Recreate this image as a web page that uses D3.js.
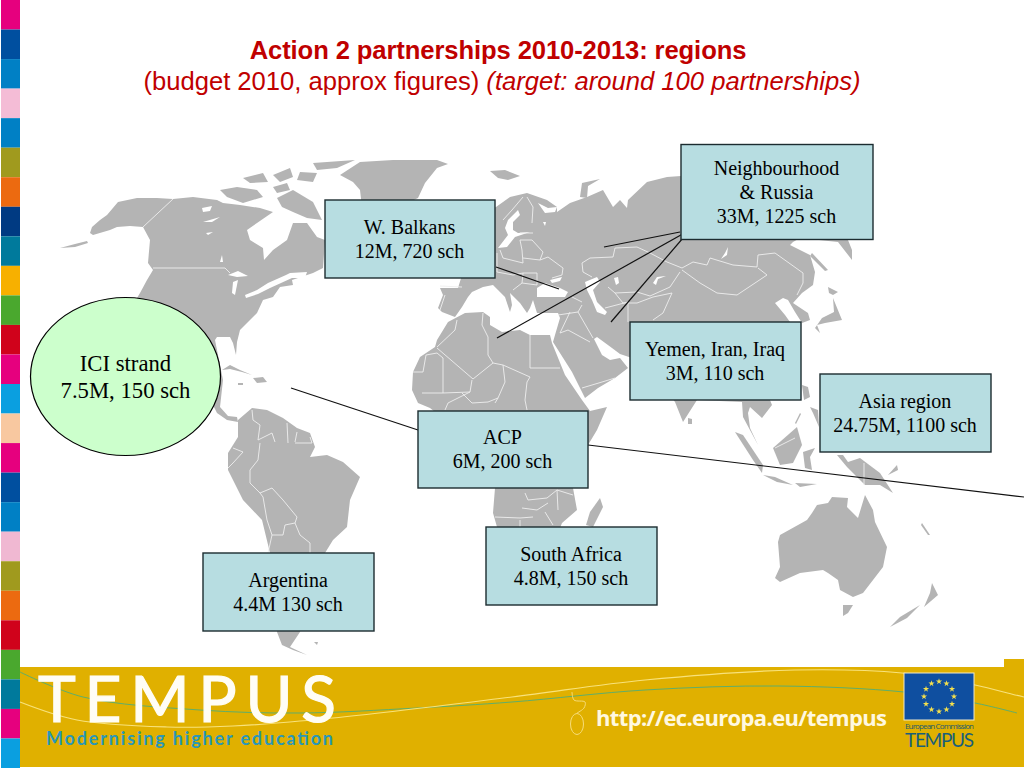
<!DOCTYPE html>
<html>
<head>
<meta charset="utf-8">
<title>Action 2 partnerships</title>
<script src="https://cdn.jsdelivr.net/npm/d3@7"></script>
<style>
    html, body { margin: 0; padding: 0; background: #fff; }
    svg { display: block; }
</style>
</head>
<body>
<div id="slide"></div>
<script>
// region labels
const regionNames = ["Neighbourhood\n& Russia", "W. Balkans", "Yemen, Iran, Iraq", "Asia region", "ACP", "South Africa", "Argentina"];
const regionFigures = ["33M, 1225 sch", "12M, 720 sch", "3M, 110 sch", "24.75M, 1100 sch", "6M, 200 sch", "4.8M, 150 sch", "4.4M 130 sch"];
const strandName = "ICI strand";
const strandFigures = "7.5M, 150 sch";

const titleMain = "Action 2 partnerships 2010-2013: regions";
const titleSub = "(budget 2010, approx figures) ";
const titleTarget = "(target: around 100 partnerships)";

const stripeColors = ["#e6007e", "#004f9f", "#0080c5", "#f4bcd6", "#0080c5", "#a09a1e", "#ec6a10", "#003a82", "#007a9c", "#f7b000",
    "#4aa82e", "#d0021b", "#e6007e", "#0a9fe0", "#f8c8a0", "#e6007e", "#004f9f", "#0080c5", "#f0b8d2", "#a09a1e", "#ec6a10", "#d0021b",
    "#4aa82e", "#007a9c", "#e6007e", "#0a9fe0"];

// map outlines, in map grid units
const landNorthAmerica = [[92,227],[90,233],[93,235],[110,230],[117,227],[130,226],[143,227],[150,240],[148,263],[153,270],[147,280],[140,293],[137,298],[160,340],[207,393],[217,413],[227,420],[238,422],[237,417],[228,416],[220,407],[223,380],[215,340],[217,337],[230,337],[233,343],[236,355],[237,342],[240,330],[257,313],[263,300],[273,297],[280,287],[293,285],[292,280],[313,273],[323,268],[325,240],[317,237],[307,223],[293,223],[287,240],[273,250],[264,260],[263,248],[250,240],[247,230],[257,223],[273,212],[260,208],[240,205],[223,203],[217,200],[193,197],[173,199],[157,198],[137,198],[118,202],[107,215],[100,220]];
const landGreenland = [[340,175],[360,162],[393,160],[437,160],[448,164],[437,168],[425,183],[418,198],[393,210],[362,207],[360,190],[353,182]];
const landBaffin = [[277,198],[293,190],[313,202],[322,220],[307,218],[293,212],[282,207]];
const landVictoria = [[220,190],[237,187],[257,190],[263,197],[243,203],[227,197]];
const landBanks = [[243,178],[263,173],[268,182],[250,183]];
const landMelville = [[273,175],[290,168],[293,177],[280,182]];
const landEllesmere = [[313,163],[355,160],[337,168],[317,170]];
const landDevon = [[300,172],[317,173],[313,182],[297,180]];
const landSomerset = [[273,187],[287,183],[290,190],[277,193]];
const landAleutians = [[60,248],[75,244],[87,241],[88,243],[75,247]];
const landCuba = [[222,370],[230,365],[240,370],[252,375],[242,372],[230,369]];
const landHispaniola = [[253,378],[263,377],[267,382],[257,383]];
const landJamaica = [[238,383],[243,383],[243,385],[238,385]];
const landSouthAmerica = [[238,420],[252,408],[267,410],[283,418],[297,428],[310,433],[315,447],[310,457],[327,455],[343,462],[360,477],[350,500],[347,527],[333,540],[325,553],[313,587],[300,632],[290,647],[307,655],[293,650],[282,645],[277,632],[270,553],[262,520],[243,500],[228,470],[228,453],[238,437]];
const landAfrica = [[413,372],[420,357],[435,347],[437,340],[448,322],[465,313],[483,312],[490,317],[490,325],[502,332],[520,330],[530,335],[550,335],[552,343],[565,375],[582,400],[590,411],[607,407],[597,430],[588,445],[573,488],[577,510],[562,523],[558,533],[540,560],[520,590],[500,575],[497,527],[493,513],[495,488],[490,470],[470,440],[430,408],[418,403],[412,390]];
const landMadagascar = [[600,498],[603,507],[593,527],[586,525],[590,512]];
const landEurasia = [[480,215],[496,207],[510,197],[527,193],[547,200],[557,207],[557,212],[570,203],[587,197],[603,190],[613,207],[620,200],[627,208],[628,200],[647,182],[667,177],[681,176],[720,165],[800,175],[860,205],[865,235],[848,240],[852,250],[852,260],[838,242],[800,238],[793,242],[790,245],[810,255],[815,272],[813,285],[802,293],[793,303],[808,313],[810,320],[802,323],[795,312],[788,300],[783,298],[775,303],[785,315],[790,322],[800,360],[770,400],[772,405],[762,418],[750,407],[748,413],[750,428],[758,445],[743,417],[742,402],[697,400],[683,422],[675,402],[650,370],[632,358],[620,354],[612,348],[597,337],[594,339],[602,355],[610,360],[620,358],[628,368],[615,378],[598,388],[585,398],[572,372],[553,342],[555,335],[560,318],[558,313],[537,313],[533,300],[530,308],[527,313],[520,303],[510,293],[512,305],[510,312],[505,297],[498,290],[493,285],[483,287],[472,292],[468,297],[462,307],[455,317],[442,312],[438,308],[443,295],[440,288],[458,288],[462,275],[440,260]];
const landSvalbard = [[490,171],[505,170],[520,176],[508,180],[498,178]];
const landNovayaZemlya = [[580,197],[582,183],[600,179],[588,186],[587,198]];
const landSakhalin = [[812,253],[828,270],[825,271],[810,256]];
const landHokkaido = [[828,287],[838,292],[833,295],[829,293]];
const landHonshu = [[833,298],[842,320],[825,323],[817,325],[820,333],[815,328],[822,318],[834,312]];
const landSriLanka = [[688,418],[692,419],[692,424],[688,424]];
const landSumatra = [[735,432],[743,435],[763,465],[762,473],[753,460]];
const landJava = [[763,475],[775,477],[793,485],[777,482]];
const landSunda = [[795,483],[817,484],[800,487]];
const landBorneo = [[773,448],[797,427],[802,445],[793,463],[780,465]];
const landSulawesi = [[803,452],[815,448],[810,457],[812,470],[805,468]];
const landLuzon = [[802,385],[808,387],[810,397],[804,400]];
const landMindanao = [[810,407],[818,410],[819,427],[813,413]];
const landPalawan = [[800,413],[801,414],[796,424],[795,423]];
const landNewGuinea = [[837,455],[843,455],[848,462],[860,458],[880,473],[893,493],[880,485],[865,485],[847,467]];
const landNewBritain = [[888,475],[897,465],[898,470]];
const landAustralia = [[775,578],[780,567],[778,542],[780,535],[807,520],[812,513],[817,505],[828,503],[832,497],[848,498],[847,507],[858,518],[865,495],[873,510],[875,522],[887,547],[883,567],[863,593],[853,597],[840,590],[838,580],[828,573],[823,570],[800,573],[780,582]];
const landTasmania = [[843,605],[853,605],[848,613],[843,616]];
const landNzNorth = [[932,583],[938,595],[924,607],[930,593]];
const landNzSouth = [[920,605],[907,618],[890,627],[900,617]];
const landCaledonia = [[922,523],[930,535],[928,535],[921,525]];
const landFalklands = [[314,642],[318,642],[317,645]];

const allLand = [landNorthAmerica, landGreenland, landBaffin, landVictoria, landBanks, landMelville, landEllesmere, landDevon, landSomerset,
    landAleutians, landCuba, landHispaniola, landJamaica, landSouthAmerica, landAfrica, landMadagascar, landEurasia, landSvalbard,
    landNovayaZemlya, landSakhalin, landHokkaido, landHonshu, landSriLanka, landSumatra, landJava, landSunda, landBorneo, landSulawesi,
    landLuzon, landMindanao, landPalawan, landNewGuinea, landNewBritain, landAustralia, landTasmania, landNzNorth, landNzSouth,
    landCaledonia, landFalklands];

// inland water, painted white over the land
const allWater = [
    [[228,275],[238,271],[248,276],[237,277]],
    [[233,282],[238,280],[235,295],[232,293]],
    [[245,295],[257,290],[268,283],[286,275],[290,273],[307,272],[305,278],[292,278],[270,288],[258,294],[246,298]],
    [[202,208],[212,206],[210,211],[203,212]],
    [[203,222],[220,217],[212,222]],
    [[206,233],[213,232],[208,235]],
    [[222,255],[223,262],[220,262]],
    [[537,288],[545,283],[560,288],[568,292],[565,297],[548,297],[537,297]],
    [[550,280],[562,277],[560,281],[552,283]],
    [[585,282],[597,277],[600,282],[593,290],[597,302],[607,312],[605,315],[597,312],[592,300],[587,290]],
    [[614,278],[618,277],[619,283],[616,285]],
    [[653,283],[657,277],[666,276],[658,279],[656,285]],
    [[728,247],[727,255],[721,259],[725,253]],
    [[518,210],[508,220],[505,228],[508,235],[498,248],[507,247],[515,237],[530,232],[518,233],[513,230],[513,222],[520,215]],
    [[538,203],[548,208],[557,207],[555,212],[545,213]],
    [[543,222],[546,222],[545,226]]
];

// country borders, thin white lines
const allBorders = [
    [[143,227],[173,199]], [[153,268],[225,268],[230,273]],
    [[252,410],[253,420],[260,425],[258,440],[272,433],[275,442]],
    [[287,423],[288,443]], [[295,442],[297,432]], [[310,437],[312,443],[295,443]],
    [[260,443],[258,460],[250,470],[250,483],[260,493],[272,488],[283,500],[297,517],[295,523],[285,525],[283,535],[272,535],[267,520],[263,497],[260,493]],
    [[228,468],[233,463],[243,452],[233,448]], [[295,523],[300,535],[310,543],[310,553]], [[272,535],[268,553]],
    [[457,320],[455,330],[437,347]], [[483,313],[482,325],[488,337]], [[488,337],[488,355],[493,363]],
    [[437,348],[473,379]], [[473,379],[493,363],[503,365]], [[530,335],[530,368]], [[503,365],[530,377]], [[530,368],[560,368]],
    [[503,365],[505,382],[498,398],[495,403]], [[530,377],[527,382],[525,400],[527,410]],
    [[413,372],[423,372],[426,355],[437,353],[443,358],[443,393],[422,393]],
    [[443,393],[470,392],[472,380]], [[470,392],[448,403],[445,410]], [[462,393],[472,403],[488,402],[498,398]],
    [[582,388],[602,382],[615,378]], [[560,333],[568,330],[590,342]], [[558,315],[578,312],[582,305]], [[578,312],[593,338]],
    [[605,308],[628,302]], [[628,322],[628,302]], [[572,297],[582,302]], [[570,312],[560,333]],
    [[582,263],[590,258],[613,257],[615,248],[637,247],[650,253],[667,262],[682,268]],
    [[582,263],[583,272],[592,277]], [[608,287],[615,293],[637,292],[650,296],[670,287],[680,272]],
    [[682,268],[693,262],[707,265],[710,258],[733,265],[757,267],[758,255],[775,253],[803,273],[803,283],[797,295]],
    [[682,270],[700,283],[717,293],[737,295],[767,275],[758,268]],
    [[523,258],[540,260],[548,257],[563,268],[562,275],[552,278]], [[520,240],[532,240],[543,252],[540,260]],
    [[500,250],[503,258],[523,263],[522,250],[520,240]], [[520,233],[533,233]], [[512,210],[503,220]], [[523,197],[512,210]],
    [[527,197],[533,207],[532,223]], [[523,273],[537,273],[537,285]], [[522,283],[537,285]], [[513,290],[522,283],[523,273]],
    [[497,272],[513,275],[523,273]], [[497,253],[497,272]], [[440,286],[462,287]], [[445,295],[440,310]],
    [[495,517],[520,518],[533,517]], [[525,493],[528,500],[547,498],[557,490]], [[557,490],[558,510]], [[557,490],[573,495]],
    [[522,508],[537,510],[548,503]], [[520,520],[520,527]], [[545,512],[553,525]],
    [[637,303],[653,297],[672,293]], [[672,293],[663,313],[653,320]], [[623,303],[637,303]], [[615,293],[623,303]],
    [[775,448],[795,438]], [[864,463],[864,485]]
];

// connector lines from the boxes, given as from/to pairs
const connectorLines = [[[496,267],[559,289]], [[604,247],[680,232]], [[497,338],[688,231]], [[611,322],[689,231]], [[291,388],[418,430]], [[588,445],[1024,497]]];
// box geometry in the same order as regionNames
const boxLayout = [[681,144.5,192,95], [325,200,170,78], [630,322,171,78], [820,374,171,78], [418,411,170,77], [486,527,171,78], [203,553,171,78]];

const bannerYellow = [[20,702],[77,720],[167,727],[233,726],[333,718],[512,697],[645,680],[795,670],[902,673],[975,685],[1015,695],[1024,697]];
const bannerGreen = [[20,672],[83,697],[200,710],[300,713],[417,708],[512,702],[645,690],[779,686],[904,692],[975,703],[1017,713]];
const mouseCord = [[572,692],[574,700],[585,702],[584,708],[577,713]];

const width = 1024, height = 768;

const svg = d3.select("#slide")
    .append("svg")
        .attr("width", width)
        .attr("height", height);

// left colour stripes
const stripeY = d3.scaleBand().domain(d3.range(stripeColors.length)).range([0, height]);
svg.append("g")
    .selectAll("rect")
    .data(stripeColors)
    .enter().append("rect")
        .attr("x", 1)
        .attr("y", function(d, i) { return stripeY(i); })
        .attr("width", 19)
        .attr("height", stripeY.bandwidth())
        .attr("fill", function(d) { return d; });

// title
const serif = "'Liberation Serif', serif";
const sans = "'Liberation Sans', Arial, sans-serif";
svg.append("text")
    .attr("x", 498)
    .attr("y", 59)
    .attr("text-anchor", "middle")
    .attr("font-family", sans)
    .attr("font-size", 25.6)
    .attr("font-weight", "bold")
    .attr("letter-spacing", -0.1)
    .attr("fill", "#c00000")
    .text(titleMain);

const subtitle = svg.append("text")
    .attr("x", 502)
    .attr("y", 90)
    .attr("text-anchor", "middle")
    .attr("font-family", sans)
    .attr("font-size", 25.6)
    .attr("fill", "#c00000");
subtitle.append("tspan").text(titleSub);
subtitle.append("tspan").attr("font-style", "italic").text(titleTarget);

// map
const mapX = d3.scaleLinear().domain([0, 1024]).range([0, width]);
const mapY = d3.scaleLinear().domain([0, 768]).range([0, height]);
const mapLine = d3.line().x(function(d) { return mapX(d[0]); }).y(function(d) { return mapY(d[1]); });
const mapArea = d3.line().x(function(d) { return mapX(d[0]); }).y(function(d) { return mapY(d[1]); }).curve(d3.curveLinearClosed);

const map = svg.append("g");
map.selectAll("path.land")
    .data(allLand)
    .enter().append("path")
        .attr("class", "land")
        .attr("d", mapArea)
        .attr("fill", "#b4b4b4");
map.selectAll("path.water")
    .data(allWater)
    .enter().append("path")
        .attr("class", "water")
        .attr("d", mapArea)
        .attr("fill", "#fff");
map.selectAll("path.border")
    .data(allBorders)
    .enter().append("path")
        .attr("class", "border")
        .attr("d", mapLine)
        .attr("fill", "none")
        .attr("stroke", "#eeeeee")
        .attr("stroke-width", 0.9);

// connectors
svg.append("g")
    .selectAll("path")
    .data(connectorLines)
    .enter().append("path")
        .attr("d", mapLine)
        .attr("fill", "none")
        .attr("stroke", "#111")
        .attr("stroke-width", 1.2);

// region boxes
const boxes = svg.append("g")
    .selectAll("g")
    .data(regionNames)
    .enter().append("g")
        .attr("transform", function(d, i) { return "translate(" + boxLayout[i][0] + "," + boxLayout[i][1] + ")"; });

boxes.append("rect")
    .attr("width", function(d, i) { return boxLayout[i][2]; })
    .attr("height", function(d, i) { return boxLayout[i][3]; })
    .attr("fill", "#b7dde1")
    .attr("stroke", "#1c2c30")
    .attr("stroke-width", 1.4);

boxes.each(function(d, i) {
    const lines = d.split("\n").concat(regionFigures[i]);
    const top = boxLayout[i][3] / 2 - (lines.length - 1) * 12 + 6.5;
    d3.select(this).selectAll("text")
        .data(lines)
        .enter().append("text")
            .attr("x", boxLayout[i][2] / 2 - 0.5)
            .attr("y", function(l, j) { return top + j * 24; })
            .attr("text-anchor", "middle")
            .attr("font-family", serif)
            .attr("font-size", 20)
            .attr("fill", "#000")
            .text(function(l) { return l; });
});

// ICI strand ellipse
svg.append("ellipse")
    .attr("cx", 125.5)
    .attr("cy", 376.5)
    .attr("rx", 95)
    .attr("ry", 79)
    .attr("fill", "#ccffcc")
    .attr("stroke", "#000")
    .attr("stroke-width", 1.2);

svg.selectAll("text.strand")
    .data([strandName, strandFigures])
    .enter().append("text")
        .attr("class", "strand")
        .attr("x", 125.5)
        .attr("y", function(d, i) { return 371 + i * 27; })
        .attr("text-anchor", "middle")
        .attr("font-family", serif)
        .attr("font-size", 22.7)
        .text(function(d) { return d; });

// bottom banner
svg.append("rect").attr("x", 20).attr("y", 667).attr("width", 1004).attr("height", 100).attr("fill", "#e0b000");
svg.append("rect").attr("x", 1004).attr("y", 659).attr("width", 20).attr("height", 10).attr("fill", "#e0b000");

const bannerCurve = d3.line().x(function(d) { return mapX(d[0]); }).y(function(d) { return mapY(d[1]); }).curve(d3.curveCatmullRom);
svg.append("path").attr("d", bannerCurve(bannerGreen)).attr("fill", "none").attr("stroke", "#5fae6a").attr("stroke-width", 1);
svg.append("path").attr("d", bannerCurve(bannerYellow)).attr("fill", "none").attr("stroke", "#f8e27a").attr("stroke-width", 1.2);

svg.append("path").attr("d", bannerCurve(mouseCord)).attr("fill", "none").attr("stroke", "#f6dc7a").attr("stroke-width", 1);
svg.append("ellipse").attr("cx", 577).attr("cy", 724).attr("rx", 6.5).attr("ry", 10.5).attr("fill", "none").attr("stroke", "#f6dc7a").attr("stroke-width", 1);

svg.append("text")
    .attr("x", 38)
    .attr("y", 722)
    .attr("textLength", 298)
    .attr("font-family", "Lato, sans-serif")
    .attr("font-size", 64)
    .attr("fill", "#fffdf5")
    .attr("stroke", "#fffdf5")
    .attr("stroke-width", 1.2)
    .text("TEMPUS");

svg.append("text")
    .attr("x", 46)
    .attr("y", 745)
    .attr("textLength", 287)
    .attr("font-family", "Lato, sans-serif")
    .attr("font-weight", "bold")
    .attr("font-size", 18)
    .attr("fill", "#2a97b8")
    .text("Modernising higher education");

svg.append("text")
    .attr("x", 596)
    .attr("y", 726)
    .attr("textLength", 291)
    .attr("font-family", "'Open Sans', sans-serif")
    .attr("font-weight", "bold")
    .attr("font-size", 22)
    .attr("fill", "#fff8e0")
    .text("http://ec.europa.eu/tempus");

// EU flag
svg.append("rect").attr("x", 904).attr("y", 673).attr("width", 70).attr("height", 47).attr("fill", "#0f4fa0").attr("stroke", "#efe9c8").attr("stroke-width", 1);
const starAngle = d3.scaleLinear().domain([0, 12]).range([0, 2 * Math.PI]);
svg.append("g")
    .selectAll("path")
    .data(d3.range(12))
    .enter().append("path")
        .attr("d", d3.symbol().type(d3.symbolStar).size(12))
        .attr("transform", function(d) {
            return "translate(" + (939 + 15 * Math.sin(starAngle(d))) + "," + (696.5 - 15 * Math.cos(starAngle(d))) + ")";
        })
        .attr("fill", "#f4e04d");

svg.append("text")
    .attr("x", 905)
    .attr("y", 729)
    .attr("textLength", 69)
    .attr("font-family", "'Open Sans', sans-serif")
    .attr("font-size", 8)
    .attr("fill", "#1d5a6e")
    .text("European Commission");

svg.append("text")
    .attr("x", 905)
    .attr("y", 747)
    .attr("textLength", 69)
    .attr("font-family", "Lato, sans-serif")
    .attr("font-size", 19)
    .attr("fill", "#1a5f7a")
    .text("TEMPUS");
</script>
</body>
</html>
